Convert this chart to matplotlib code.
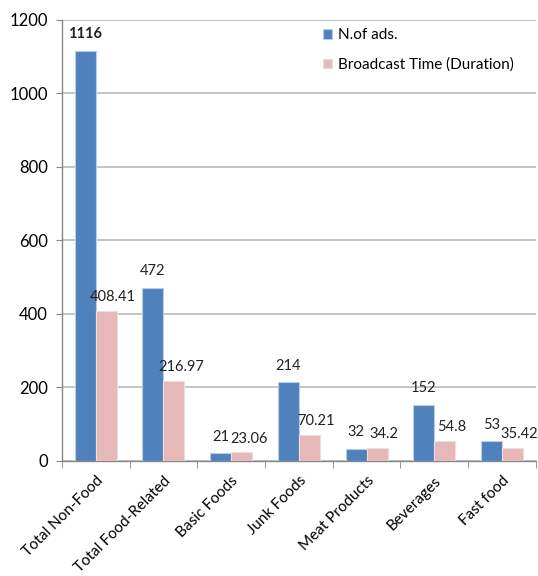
import numpy as np
import matplotlib
matplotlib.use('Agg')
from matplotlib import pyplot as plt

categories = ['Total Non-Food', 'Total Food-Related', 'Basic Foods', 'Junk Foods',
              'Meat Products', 'Beverages', 'Fast food']
n_ads = [1116, 472, 21, 214, 32, 152, 53]
duration = [408.41, 216.97, 23.06, 70.21, 34.2, 54.8, 35.42]
ad_labels = ['1116', '472', '21', '214', '32', '152', '53']
dur_labels = ['408.41', '216.97', '23.06', '70.21', '34.2', '54.8', '35.42']

plt.rcParams['font.family'] = ['Lato', 'DejaVu Sans']

fig = plt.figure(figsize=(5.38, 5.76), dpi=100)
ax = fig.add_axes([0.115, 0.1997, 0.881, 0.7656])

x = np.arange(len(categories))
w = 0.31
b1 = ax.bar(x - w/2, n_ads, w, color='#4F81BD', edgecolor='#B9CDE5', linewidth=0.8,
            label='N.of ads.', zorder=3)
b2 = ax.bar(x + w/2, duration, w, color='#E6B9B8', edgecolor='#F2DCDB', linewidth=0.8,
            label='Broadcast Time (Duration)', zorder=3)

for rect, txt in zip(b1, ad_labels):
    ax.annotate(txt, (rect.get_x() + rect.get_width()/2, rect.get_height()),
                xytext=(0, 7), textcoords='offset points', ha='center', va='bottom',
                fontsize=10.5, color='#222222', fontweight='bold' if txt == '1116' else 'normal')
for rect, txt in zip(b2, dur_labels):
    ax.annotate(txt, (rect.get_x() + rect.get_width()/2, rect.get_height()),
                xytext=(5, 5), textcoords='offset points', ha='center', va='bottom',
                fontsize=10.5, color='#222222')

ax.set_ylim(0, 1200)
ax.set_xlim(-0.5, len(categories) - 0.5)
ax.set_yticks(range(0, 1201, 200))
ax.tick_params(axis='y', labelsize=12, length=4, color='#888888', pad=6)
ax.yaxis.grid(True, color='#BFBFBF', linewidth=1.3, zorder=0)
ax.set_axisbelow(True)

ax.set_xticks(x)
ax.set_xticklabels(categories, rotation=45, ha='right', rotation_mode='anchor', fontsize=11)
ax.tick_params(axis='x', length=0, pad=9)
ax.set_xticks(np.arange(-0.5, len(categories)), minor=True)
ax.tick_params(axis='x', which='minor', length=5, color='#888888')

for s in ['top', 'right']:
    ax.spines[s].set_visible(False)
for s in ['left', 'bottom']:
    ax.spines[s].set_color('#888888')
    ax.spines[s].set_linewidth(1.0)

ax.legend(loc='upper left', bbox_to_anchor=(0.575, 0.975), bbox_transform=fig.transFigure,
          frameon=False, fontsize=11, handlelength=0.6, handleheight=0.6,
          handletextpad=0.4, labelspacing=1.0)

fig.savefig('out.png', dpi=100)
